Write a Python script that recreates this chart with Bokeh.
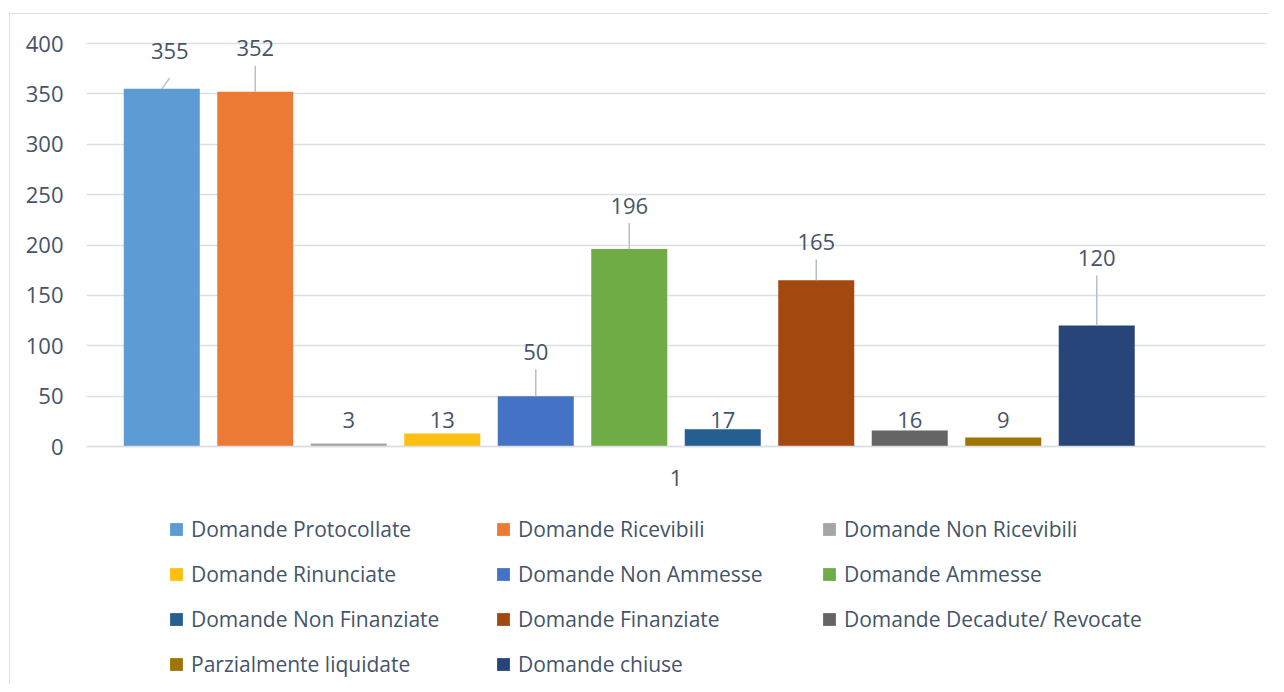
from bokeh.plotting import figure
from bokeh.models import (Range1d, FixedTicker, Legend, LegendItem, ColumnDataSource,
                          InlineStyleSheet)
from bokeh.core.properties import value
from bokeh.embed import file_html
from bokeh.resources import INLINE

# ---------------- data ----------------
category = ["1"]
series = [
    "Domande Protocollate", "Domande Ricevibili", "Domande Non Ricevibili",
    "Domande Rinunciate", "Domande Non Ammesse", "Domande Ammesse",
    "Domande Non Finanziate", "Domande Finanziate", "Domande Decadute/ Revocate",
    "Parzialmente liquidate", "Domande chiuse",
]
values = [355, 352, 3, 13, 50, 196, 17, 165, 16, 9, 120]
y_ticks = [0, 50, 100, 150, 200, 250, 300, 350, 400]

# ---------------- styles ----------------
colors = ["#5d9bd5", "#ec7a34", "#a5a5a5", "#fec010", "#4472c4", "#70ac46",
          "#255e91", "#a3480f", "#656565", "#9e7402", "#284579"]
label_dx = [8, 0, 0, 0, 0, 0, 0, 0, 0, 0, 0]                          # px
label_dy = [-38, -44, -23, -13, -44, -43.5, -9, -38, -10, -17, -68]    # px
leader_len = [11, 26, 0, 0, 27, 26, 0, 21, 0, 0, 50]                   # px

FONT = "Open Sans"
TXT = "#44546a"
GRID = "#dcdfe4"
FS = "22px"
LFS = "21px"

W, H = 1268, 684
ML, MR, MT, MB = 86, 3, 20, 0
FW, FH = W - ML - MR, H - MT - MB
Y0_PX = 446                     # canvas y of value 0
PPU = 403 / 400.0               # px per value unit
y_top = (Y0_PX - MT) / PPU
y_bot = -(H - Y0_PX) / PPU

n_slots = len(series) + 1        # the source cluster has one empty slot
pad = 0.305
x0, x1 = -0.5 - pad, n_slots - 0.5 + pad
ppx = FW / (x1 - x0)

p = figure(width=W, height=H, output_backend="svg", toolbar_location=None,
           x_range=Range1d(x0, x1), y_range=Range1d(y_bot, y_top),
           min_border_left=ML, min_border_right=MR, min_border_top=MT,
           min_border_bottom=MB)
p.outline_line_color = None
p.background_fill_color = "white"
p.border_fill_color = "white"
p.stylesheets = [InlineStyleSheet(css=(
    ":host { position: relative; }"
    ":host::after { content: ''; position: absolute; left: 9px; top: 13px; right: 0; bottom: 0;"
    " border-left: 1.5px solid #dde1e6; border-top: 1.5px solid #dde1e6; pointer-events: none; }"
))]

renderers = []
for i, (name, v, c) in enumerate(zip(series, values, colors)):
    r = p.vbar(x=[i], top=[v], bottom=0, width=0.813, fill_color=c, line_color=None)
    renderers.append(r)

# data labels
src = ColumnDataSource(dict(x=list(range(len(values))), y=values,
                            t=[str(v) for v in values], dx=label_dx, dy=label_dy))
p.text(x="x", y="y", text="t", x_offset="dx", y_offset="dy", source=src,
       text_align="center", text_baseline="middle", text_color=TXT,
       text_font=value(FONT), text_font_size=FS)

# leader lines
lx0, ly0, lx1, ly1 = [], [], [], []
for i, v in enumerate(values):
    if leader_len[i] > 0:
        lx0.append(i); ly0.append(v)
        lx1.append(i + label_dx[i] / ppx); ly1.append(v + leader_len[i] / PPU)
p.segment(x0=lx0, y0=ly0, x1=lx1, y1=ly1, line_color="#b7bfca", line_width=1.5)

# axes
p.xgrid.visible = False
p.ygrid.grid_line_color = GRID
p.ygrid.grid_line_width = 1.5
p.yaxis.ticker = FixedTicker(ticks=y_ticks)
p.xaxis.ticker = FixedTicker(ticks=[(n_slots - 1) / 2])
p.xaxis.major_label_overrides = {(n_slots - 1) / 2: category[0]}
p.xaxis.fixed_location = 0
for ax in (p.xaxis[0], p.yaxis[0]):
    ax.major_tick_line_color = None
    ax.minor_tick_line_color = None
    ax.major_label_text_font = FONT
    ax.major_label_text_font_size = FS
    ax.major_label_text_color = TXT
p.yaxis.axis_line_color = None
p.xaxis.axis_line_color = GRID
p.xaxis.axis_line_width = 1.5
p.yaxis.major_label_standoff = 17
p.xaxis.major_label_standoff = 17

# legend: three columns, filled row-wise
cols_x = [82, 409, 735]
item_h, spacing = 30, 15
first_row_center = 529
for c in range(3):
    idxs = list(range(c, len(series), 3))
    nrows = len(idxs)
    height = nrows * item_h + (nrows - 1) * spacing
    top = first_row_center - item_h / 2
    ybot = H - (top + height)
    leg = Legend(items=[LegendItem(label=series[k], renderers=[renderers[k]]) for k in idxs],
                 location=(cols_x[c], ybot), orientation="vertical",
                 glyph_width=16, glyph_height=16, label_standoff=7,
                 label_height=item_h, spacing=spacing,
                 padding=0, margin=0, border_line_color=None,
                 background_fill_alpha=0,
                 label_text_font=FONT, label_text_font_size=LFS, label_text_color=TXT)
    p.add_layout(leg)

open("out.html", "w").write(file_html(p, INLINE))
